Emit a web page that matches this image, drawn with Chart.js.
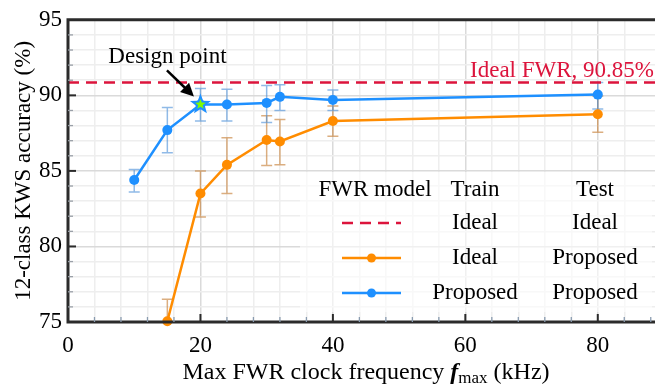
<!DOCTYPE html>
<html>
<head>
<meta charset="utf-8">
<script src="https://cdn.jsdelivr.net/npm/chart.js@4.4.1/dist/chart.umd.min.js"></script>
<style>
  html, body { margin: 0; padding: 0; background: #fff; overflow: hidden; }
  #grafico { display: block; }
</style>
</head>
<body>
<canvas id="grafico" width="680" height="386"></canvas>
<script>
// === DATA ===
const freqProposed = [10, 15, 20, 24, 30, 32, 40, 80];
const accProposed = [84.4, 87.7, 89.4, 89.4, 89.5, 89.9, 89.7, 90.05];
const lowProposed = [83.6, 86.2, 88.3, 88.3, 88.2, 89.0, 89.0, 89.1];
const highProposed = [85.1, 89.2, 90.45, 90.4, 90.65, 90.7, 90.35, 90.85];

const freqIdeal = [15, 20, 24, 30, 32, 40, 80];
const accIdeal = [75.05, 83.5, 85.4, 87.05, 86.95, 88.3, 88.75];
const lowIdeal = [73.6, 81.95, 83.5, 85.35, 85.4, 87.3, 87.55];
const highIdeal = [76.5, 85.0, 87.2, 88.65, 88.4, 89.3, 89.95];

const idealFwr = 90.85;
const designPoint = { x: 20, y: 89.4 };
const xRange = [0, 90];
const yRange = [75, 95];

const SERIF = '"Liberation Serif", "Times New Roman", serif';
const BLUE = "#1e90ff";
const ORANGE = "#ff8c00";
const RED = "#dc143c";

const pts = (xs, ys) => xs.map((x, i) => ({ x, y: ys[i] }));

// barras de error (dibujadas con las escalas del grafico)
function dibujarErrores(chart, xs, lo, hi, color) {
  const c = chart.ctx, sx = chart.scales.x, sy = chart.scales.y;
  c.strokeStyle = color;
  c.lineWidth = 1.5;
  xs.forEach((x, i) => {
    const px = sx.getPixelForValue(x);
    const y1 = sy.getPixelForValue(lo[i]);
    const y2 = sy.getPixelForValue(hi[i]);
    c.beginPath();
    c.moveTo(px, y1); c.lineTo(px, y2);
    c.moveTo(px - 5.5, y1); c.lineTo(px + 5.5, y1);
    c.moveTo(px - 5.5, y2); c.lineTo(px + 5.5, y2);
    c.stroke();
  });
}

function estrella(c, cx, cy, R, r, color) {
  c.beginPath();
  for (let k = 0; k < 10; k++) {
    const rad = k % 2 === 0 ? R : r;
    const a = -Math.PI / 2 + k * Math.PI / 5;
    const px = cx + rad * Math.cos(a), py = cy + rad * Math.sin(a);
    k === 0 ? c.moveTo(px, py) : c.lineTo(px, py);
  }
  c.closePath();
  c.fillStyle = color;
  c.fill();
}

const erroresPlugin = {
  id: "errores",
  beforeDatasetsDraw(chart) {
    const c = chart.ctx, a = chart.chartArea;
    c.save();
    c.beginPath();
    c.rect(a.left, a.top, a.right - a.left, a.bottom - a.top);
    c.clip();
    dibujarErrores(chart, freqIdeal, lowIdeal, highIdeal, "rgba(200,130,60,0.65)");
    dibujarErrores(chart, freqProposed, lowProposed, highProposed, "rgba(70,140,215,0.6)");
    c.restore();
  }
};

const anotacionesPlugin = {
  id: "anotaciones",
  afterDatasetsDraw(chart) {
    const c = chart.ctx, a = chart.chartArea, sx = chart.scales.x, sy = chart.scales.y;
    c.save();

    // punto de diseno
    const dx = sx.getPixelForValue(designPoint.x), dy = sy.getPixelForValue(designPoint.y);
    estrella(c, dx, dy, 11, 4.6, BLUE);
    estrella(c, dx, dy, 5.5, 2.3, "#7cfc00");

    // flecha
    const x0 = dx - 33.5, y0 = dy - 34, x1 = dx - 6.5, y1 = dy - 8;
    const ang = Math.atan2(y1 - y0, x1 - x0);
    c.strokeStyle = "#000"; c.fillStyle = "#000"; c.lineWidth = 2.5;
    c.beginPath(); c.moveTo(x0, y0);
    c.lineTo(x1 - 10 * Math.cos(ang), y1 - 10 * Math.sin(ang)); c.stroke();
    c.beginPath();
    c.moveTo(x1, y1);
    c.lineTo(x1 - 13 * Math.cos(ang) + 6.5 * Math.sin(ang), y1 - 13 * Math.sin(ang) - 6.5 * Math.cos(ang));
    c.lineTo(x1 - 13 * Math.cos(ang) - 6.5 * Math.sin(ang), y1 - 13 * Math.sin(ang) + 6.5 * Math.cos(ang));
    c.closePath(); c.fill();

    c.font = "23px " + SERIF;
    c.textAlign = "center"; c.textBaseline = "alphabetic";
    c.fillText("Design point", dx - 33, dy - 41);

    // etiqueta ideal
    c.fillStyle = RED;
    c.textAlign = "right";
    c.fillText("Ideal FWR, 90.85%", 654, sy.getPixelForValue(idealFwr) - 6);

    // leyenda
    c.fillStyle = "rgba(255,255,255,0.6)";
    c.fillRect(300, 172, 352, 140);
    c.fillStyle = "#000";
    c.textAlign = "center"; c.textBaseline = "middle";
    c.font = "23px " + SERIF;
    c.fillText("FWR model", 375, 190);
    c.fillText("Train", 475, 190);
    c.fillText("Test", 595, 190);
    const filas = [
      { y: 223, color: RED, dash: [11, 7], marker: false, train: "Ideal", test: "Ideal" },
      { y: 258, color: ORANGE, dash: [], marker: true, train: "Ideal", test: "Proposed" },
      { y: 293, color: BLUE, dash: [], marker: true, train: "Proposed", test: "Proposed" }
    ];
    filas.forEach(f => {
      c.strokeStyle = f.color; c.lineWidth = 2.5; c.setLineDash(f.dash);
      c.beginPath(); c.moveTo(342, f.y); c.lineTo(401, f.y); c.stroke();
      c.setLineDash([]);
      if (f.marker) {
        c.fillStyle = f.color;
        c.beginPath(); c.arc(371.5, f.y, 4.5, 0, Math.PI * 2); c.fill();
      }
      c.fillStyle = "#000";
      c.fillText(f.train, 475, f.y);
      c.fillText(f.test, 595, f.y);
    });

    // marco y marcas interiores
    c.strokeStyle = "#2b2b2b"; c.lineWidth = 3;
    c.beginPath();
    c.moveTo(a.right + 20, a.top); c.lineTo(a.left, a.top);
    c.lineTo(a.left, a.bottom); c.lineTo(a.right + 20, a.bottom);
    c.stroke();
    for (let v = yRange[0] + 1; v < yRange[1]; v++) {
      const py = sy.getPixelForValue(v), major = v % 5 === 0;
      c.strokeStyle = major ? "#2b2b2b" : "#9aa0a8"; c.lineWidth = major ? 2 : 1.3;
      c.beginPath(); c.moveTo(a.left, py); c.lineTo(a.left + (major ? 8 : 5), py); c.stroke();
    }
    for (let v = xRange[0] + 4; v < xRange[1]; v += 4) {
      const px = sx.getPixelForValue(v), major = v % 20 === 0;
      c.strokeStyle = major ? "#2b2b2b" : "#8a9cb0"; c.lineWidth = major ? 2 : 1.3;
      c.beginPath(); c.moveTo(px, a.bottom); c.lineTo(px, a.bottom - (major ? 8 : 5)); c.stroke();
    }

    // titulos de ejes
    c.fillStyle = "#000";
    c.save();
    c.translate(24, (a.top + a.bottom) / 2);
    c.rotate(-Math.PI / 2);
    c.textAlign = "center"; c.textBaseline = "middle";
    c.font = "23px " + SERIF;
    c.fillText("12-class KWS accuracy (%)", 0, 0);
    c.restore();

    const partes = [
      { t: "Max FWR clock frequency ", f: "24px " + SERIF, dy: 0 },
      { t: "f", f: "italic bold 24px " + SERIF, dy: 0 },
      { t: "max", f: "17px " + SERIF, dy: 4 },
      { t: " (kHz)", f: "24px " + SERIF, dy: 0 }
    ];
    let total = 0;
    partes.forEach(p => { c.font = p.f; total += c.measureText(p.t).width; });
    let cx = (a.left + sx.getPixelForValue(xRange[1])) / 2 - total / 2;
    c.textAlign = "left"; c.textBaseline = "alphabetic";
    partes.forEach(p => {
      c.font = p.f; c.fillText(p.t, cx, 379 + p.dy);
      cx += c.measureText(p.t).width;
    });
    c.restore();
  }
};

const ctx = document.getElementById("grafico").getContext("2d");
const grafico = new Chart(ctx, {
  type: "line",
  data: {
    datasets: [
      {
        label: "Proposed / Proposed",
        data: pts(freqProposed, accProposed),
        borderColor: BLUE, backgroundColor: BLUE,
        borderWidth: 2.5, pointRadius: 5, pointBorderWidth: 0, clip: false
      },
      {
        label: "Ideal / Proposed",
        data: pts(freqIdeal, accIdeal),
        borderColor: ORANGE, backgroundColor: ORANGE,
        borderWidth: 2.5, pointRadius: 5, pointBorderWidth: 0, clip: false
      },
      {
        label: "Ideal / Ideal",
        data: pts(xRange, [idealFwr, idealFwr]),
        borderColor: RED, borderDash: [11, 7],
        borderWidth: 2.5, pointRadius: 0
      }
    ]
  },
  options: {
    responsive: false,
    animation: false,
    layout: { padding: { top: 14, right: 16, left: 0, bottom: 0 } },
    plugins: { legend: { display: false }, tooltip: { enabled: false } },
    scales: {
      x: {
        type: "linear", min: xRange[0], max: xRange[1],
        ticks: {
          stepSize: 4, autoSkip: false, maxRotation: 0, padding: 10,
          callback: v => (v % 20 === 0 ? v : ""),
          font: { family: SERIF, size: 23 }, color: "#000"
        },
        grid: { color: c => (c.tick && c.tick.value % 20 === 0 ? "#dadada" : "#eeeeee"), lineWidth: 1.5, drawTicks: false },
        border: { display: false },
        afterFit: s => { s.height = 64; }
      },
      y: {
        min: yRange[0], max: yRange[1],
        ticks: {
          stepSize: 1, autoSkip: false, padding: 6,
          callback: v => (v % 5 === 0 ? v : ""),
          font: { family: SERIF, size: 23 }, color: "#000"
        },
        grid: { color: c => (c.tick && c.tick.value % 5 === 0 ? "#dadada" : "#eeeeee"), lineWidth: 1.5, drawTicks: false },
        border: { display: false },
        afterFit: s => { s.width = 68; }
      }
    }
  },
  plugins: [erroresPlugin, anotacionesPlugin]
});
</script>
</body>
</html>
